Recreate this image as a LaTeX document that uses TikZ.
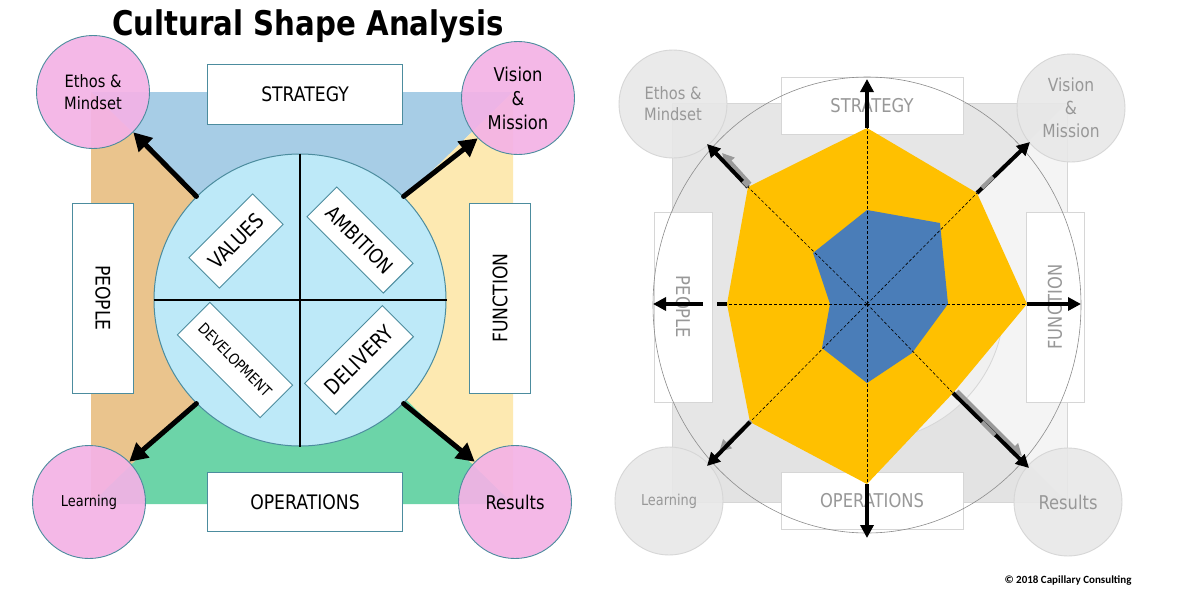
\documentclass[tikz,border=0pt]{standalone}
\usepackage{fontspec}
\setmainfont{DejaVu Sans}[FakeStretch=0.86]
\newfontfamily\calfont{Carlito}
\usetikzlibrary{arrows.meta}
\definecolor{tealb}{HTML}{4C8C9E}
\definecolor{cblue}{HTML}{A7CDE6}
\definecolor{ctan}{HTML}{EAC48D}
\definecolor{cyel}{HTML}{FDE9B1}
\definecolor{cgreen}{HTML}{6CD4A8}
\definecolor{ccyan}{HTML}{BDE9F8}
\definecolor{cpink}{HTML}{F4B2E6}
\definecolor{gsq}{HTML}{E6E6E6}
\definecolor{gsqr}{HTML}{F4F4F4}
\definecolor{gsqb}{HTML}{E3E3E3}
\definecolor{ginner}{HTML}{F0F0F0}
\definecolor{lgb}{HTML}{D6D6D6}
\definecolor{gcirc}{HTML}{E8E8E8}
\definecolor{gtext}{HTML}{989898}
\definecolor{ghost}{HTML}{9A9A9A}
\definecolor{ellc}{HTML}{8C8C8C}
\definecolor{ryel}{HTML}{FFC000}
\definecolor{rblue}{HTML}{4A7DB8}
\newcommand{\myfs}[2]{\fontsize{#1}{#2}\selectfont}
\begin{document}
\begin{tikzpicture}[x=1pt,y=-1pt,
  lbox/.style={draw=tealb, fill=white, line width=0.9pt, inner sep=0pt},
  pinkc/.style={circle, draw=tealb, fill=cpink, fill opacity=0.92, text opacity=1, line width=0.9pt, inner sep=0pt, minimum size=113pt, align=center},
  bigarr/.style={line width=5pt, line cap=round, -{Triangle[length=18pt,width=19pt]}},
  gbox/.style={draw=lgb, fill=white, line width=0.9pt, inner sep=0pt, text=gtext},
  grayc/.style={circle, draw=lgb, fill=gcirc, fill opacity=0.88, text opacity=1, line width=0.9pt, inner sep=0pt, minimum size=108pt, align=center, text=gtext},
  rarr/.style={line width=4pt, -{Triangle[length=13pt,width=13pt]}},
  garr/.style={line width=4pt, draw=ghost, -{Triangle[length=12pt,width=12pt]}, fill=ghost},
  axisl/.style={line width=0.6pt, dash pattern=on 3pt off 2pt}
]
\useasboundingbox (0,0) rectangle (1200,600);
\fill[white] (0,0) rectangle (1200,600);

% ---------------- LEFT DIAGRAM ----------------
\node[font=\bfseries\myfs{34}{40}, anchor=base, inner sep=0pt] (title) at (308,35) {Cultural Shape Analysis};

\coordinate (TL) at (91,92);
\coordinate (TR) at (513,92);
\coordinate (BL) at (91,504);
\coordinate (BR) at (513,504);
\coordinate (C) at (302,298);
\fill[cblue] (TL) -- (TR) -- (C) -- cycle;
\fill[ctan] (TL) -- (BL) -- (C) -- cycle;
\fill[cyel] (TR) -- (BR) -- (C) -- cycle;
\fill[cgreen] (BL) -- (BR) -- (C) -- cycle;

\node[circle, draw=tealb, fill=ccyan, line width=1pt, minimum size=292pt, inner sep=0pt] (cc) at (300,300) {};
\draw[line width=2.5pt] (cc.west) -- (cc.east);
\draw[line width=2.5pt] (cc.north) -- (cc.south);

\node[lbox, rotate=45, minimum width=90pt, minimum height=43pt, font=\myfs{21}{24}] (val) at (236,241) {VALUES};
\node[lbox, rotate=-45, minimum width=108pt, minimum height=42pt, font=\myfs{20}{24}] (amb) at (360,240) {AMBITION};
\node[lbox, rotate=-45, minimum width=117pt, minimum height=46pt, font=\myfs{15}{18}] (dev) at (235,360) {DEVELOPMENT};
\node[lbox, rotate=45, minimum width=110pt, minimum height=44pt, font=\myfs{21}{24}] (del) at (359,360) {DELIVERY};

\node[lbox, minimum width=195pt, minimum height=60pt, font=\myfs{20}{24}] (str) at (305,94) {STRATEGY};
\node[lbox, minimum width=195pt, minimum height=59pt, font=\myfs{20}{24}] (ops) at (305,502) {OPERATIONS};
\node[lbox, rotate=-90, minimum width=190pt, minimum height=61pt, font=\myfs{20}{24}] (ppl) at (103,298) {PEOPLE};
\node[lbox, rotate=90, minimum width=190pt, minimum height=61pt, font=\myfs{20}{24}] (fun) at (500,298) {FUNCTION};

\node[pinkc, font=\myfs{17}{22}] (eth) at (93,92) {Ethos \&\\Mindset};
\node[pinkc, font=\myfs{19}{24}] (vis) at (518,98) {Vision\\\&\\Mission};
\node[pinkc, font=\myfs{15}{18}] (lea) at (89,502) {Learning};
\node[pinkc, font=\myfs{19}{22}] (res) at (515,502) {Results};

\draw[bigarr] (cc.135) -- (eth.-45);
\draw[bigarr] (cc.45) -- (vis.-135);
\draw[bigarr] (cc.-135) -- (lea.45);
\draw[bigarr] (cc.-45) -- (res.135);

% ---------------- RIGHT DIAGRAM ----------------
\coordinate (RTL) at (672,103);
\coordinate (RTR) at (1067,103);
\coordinate (RBL) at (672,502);
\coordinate (RBR) at (1067,502);
\coordinate (RC) at (869,303);
\fill[gsq] (RTL) -- (RTR) -- (RC) -- cycle;
\fill[gsq] (RTL) -- (RBL) -- (RC) -- cycle;
\fill[gsqr] (RTR) -- (RBR) -- (RC) -- cycle;
\fill[gsqb] (RBL) -- (RBR) -- (RC) -- cycle;
\draw[lgb, line width=0.8pt] (RTL) rectangle (RBR);
\node[circle, draw=lgb, fill=ginner, line width=0.8pt, minimum size=274pt, inner sep=0pt] (icc) at (867,304) {};

\node[gbox, minimum width=182pt, minimum height=57pt, font=\myfs{19}{22}] (str2) at (872,106) {STRATEGY};
\node[gbox, minimum width=182pt, minimum height=57pt, font=\myfs{19}{22}] (ops2) at (872,501) {OPERATIONS};
\node[gbox, rotate=-90, minimum width=190pt, minimum height=58pt, font=\myfs{19}{22}] (ppl2) at (683,307) {PEOPLE};
\node[gbox, rotate=90, minimum width=190pt, minimum height=58pt, font=\myfs{19}{22}] (fun2) at (1055,307) {FUNCTION};

\node[grayc, font=\myfs{17}{21}] (eth2) at (673,104) {Ethos \&\\Mindset};
\node[grayc, font=\myfs{18}{23}] (vis2) at (1071,108) {Vision\\\&\\Mission};
\node[grayc, font=\myfs{15}{18}] (lea2) at (669,501) {Learning};
\node[grayc, font=\myfs{19}{22}] (res2) at (1068,502) {Results};

\draw[ellc, line width=0.6pt] (867,305) ellipse [x radius=214, y radius=228];

% radar
\coordinate (O) at (867,304);
\coordinate (yN) at (867,128);
\coordinate (yNE) at (977,193);
\coordinate (yE) at (1027,304);
\coordinate (ySE) at (953,393);
\coordinate (yS) at (867,484);
\coordinate (ySW) at (750,422);
\coordinate (yW) at (727,304);
\coordinate (yNW) at (748,187);
\fill[ryel] (yN) -- (yNE) -- (yE) -- (ySE) -- (yS) -- (ySW) -- (yW) -- (yNW) -- cycle;
\fill[rblue] (867,210) -- (940,223) -- (948,304) -- (912,353) -- (867,383) -- (822,348) -- (830,304) -- (813,253) -- cycle;
\foreach \v in {yN,yNE,yE,ySE,yS,ySW,yW,yNW} \draw[axisl] (O) -- (\v);

\coordinate (aN) at (867,79);
\coordinate (aNE) at (1030,142);
\coordinate (aE) at (1081,304);
\coordinate (aSE) at (1029,468);
\coordinate (aS) at (867,538);
\coordinate (aSW) at (707,466);
\coordinate (aW) at (653,304);
\coordinate (aNW) at (707,144);
\coordinate (wgap) at (703,304);
\coordinate (wdash) at (717,304);

% ghost arrows
\draw[garr] (750,184) -- (722,153);
\draw[garr] (751,421) -- (719,452);
\draw[garr] (957,391) -- (1022,456);

\draw[rarr] (yN) -- (aN);
\draw[rarr] (yNE) -- (aNE);
\draw[rarr] (yE) -- (aE);
\draw[rarr] (ySE) -- (aSE);
\draw[rarr] (yS) -- (aS);
\draw[rarr] (ySW) -- (aSW);
\draw[rarr] (wgap) -- (aW);
\draw[line width=4pt] (yW) -- (wdash);
\draw[rarr] (yNW) -- (aNW);
% grey breaks
\draw[ghost, line width=4pt] (982,188) -- (993,177);
\draw[ghost, line width=4pt] (982,422) -- (995,435);
\draw[ghost, line width=4pt] (748,186) -- (743,181);

\node[font=\calfont\bfseries\myfs{11}{13}, anchor=base, inner sep=0pt] (copy) at (1068,583) {© 2018 Capillary Consulting};
\end{tikzpicture}
\end{document}
